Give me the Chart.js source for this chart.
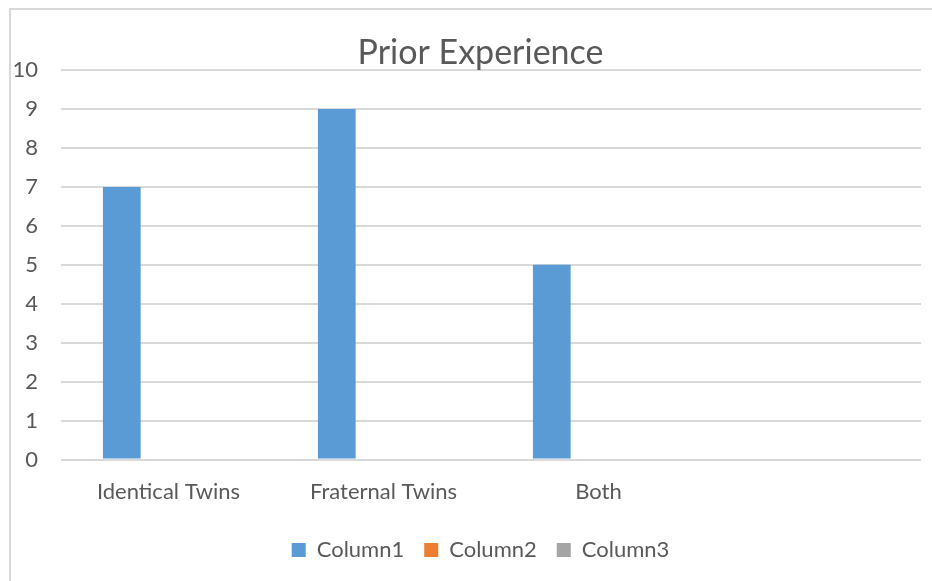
<!DOCTYPE html>
<html>
<head>
<meta charset="utf-8">
<script src="https://cdn.jsdelivr.net/npm/chart.js@4/dist/chart.umd.min.js"></script>
<style>
  html, body { margin: 0; padding: 0; background: #ffffff; }
  #wrap { position: relative; width: 932px; height: 581px; overflow: hidden; }
  #frame { position: absolute; left: 9px; top: 8px; width: 1000px; height: 1000px;
           border-left: 2px solid #d9d9d9; border-top: 2px solid #d9d9d9; pointer-events: none; }
  canvas { position: absolute; left: 0; top: 0; }
</style>
</head>
<body>
<div id="wrap">
  <canvas id="chart" width="961" height="581"></canvas>
  <div id="frame"></div>
</div>
<script>
// Survey responses grouped by twin type
const categories = ['Identical Twins', 'Fraternal Twins', 'Both', ''];
const column1 = [7, 9, 5, null];
const column2 = [null, null, null, null];
const column3 = [null, null, null, null];
const yTicks = [0, 1, 2, 3, 4, 5, 6, 7, 8, 9, 10];

const textColor = '#595959';
const gridColor = '#d9d9d9';
const fontFamily = 'Lato, "Open Sans", sans-serif';

new Chart(document.getElementById('chart'), {
  type: 'bar',
  data: {
    labels: categories,
    datasets: [
      { label: 'Column1', data: column1, backgroundColor: '#5b9bd5', borderWidth: 0 },
      { label: 'Column2', data: column2, backgroundColor: '#ed7d31', borderWidth: 0 },
      { label: 'Column3', data: column3, backgroundColor: '#a5a5a5', borderWidth: 0 }
    ]
  },
  options: {
    responsive: false,
    animation: false,
    categoryPercentage: 0.652,
    barPercentage: 0.807,
    layout: { padding: { left: 0, right: 0, top: 0, bottom: 10 } },
    plugins: {
      title: {
        display: true,
        text: 'Prior Experience',
        color: textColor,
        font: { family: fontFamily, size: 34, weight: 'normal', lineHeight: 1 },
        padding: { top: 36, bottom: 0 }
      },
      legend: {
        position: 'bottom',
        labels: {
          color: textColor,
          font: { family: fontFamily, size: 22 },
          boxWidth: 14,
          boxHeight: 14,
          padding: 20
        }
      },
      tooltip: { enabled: false }
    },
    scales: {
      x: {
        afterFit: s => { s.height = 59.4; },
        grid: { display: false, drawTicks: false },
        border: { display: false },
        ticks: {
          color: textColor,
          font: { family: fontFamily, size: 22 },
          padding: 19,
          maxRotation: 0,
          autoSkip: false
        }
      },
      y: {
        min: 0,
        max: 10,
        afterFit: s => { s.width = 61; },
        afterBuildTicks: s => { s.ticks = yTicks.map(v => ({ value: v })); },
        grid: { color: gridColor, lineWidth: 2, drawTicks: false },
        border: { display: false },
        ticks: {
          color: textColor,
          font: { family: fontFamily, size: 22 },
          padding: 23
        }
      },
      // empty margin on the right of the plot area
      yRight: {
        type: 'linear',
        position: 'right',
        afterFit: s => { s.width = 40; },
        grid: { display: false, drawTicks: false },
        border: { display: false },
        ticks: { display: false }
      }
    }
  }
});
</script>
</body>
</html>
